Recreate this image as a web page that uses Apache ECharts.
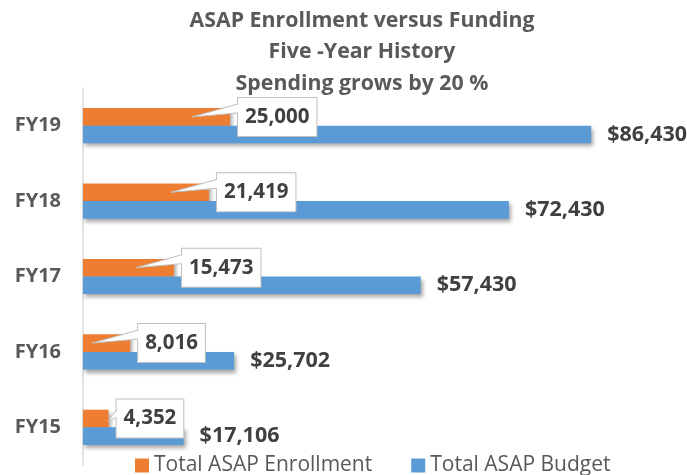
<!DOCTYPE html>
<html>
<head>
<meta charset="utf-8">
<script src="https://cdn.jsdelivr.net/npm/echarts@6/dist/echarts.min.js"></script>
<style>
  html, body { margin: 0; padding: 0; background: #fff; }
  #asap_chart { width: 687px; height: 475px; }
</style>
</head>
<body>
<div id="asap_chart"></div>
<script>
// Chart data
// ------------------------------

var categories = ["FY15", "FY16", "FY17", "FY18", "FY19"];
var enrollment = [4352, 8016, 15473, 21419, 25000];
var budget = [17106, 25702, 57430, 72430, 86430];

var BAR_W = 17.6;
var GRID_LEFT = 83;
var FONT = "'Open Sans', sans-serif";

var fmtNum = function (v) {
  return v.toLocaleString("en-US");
};

// Callout box with a thin tail, placed at the end of each enrollment bar
var renderCallout = function (params, api) {
  var val = api.value(0);
  var end = api.coord([val, api.value(1)]);
  var ex = end[0];
  var cy = end[1] - BAR_W / 2;
  var x0 = ex + 8;
  // short bars: tail just touches the bar end
  var longTail = ex - 38 > GRID_LEFT + 5;
  var tip = longTail ? [ex - 38, cy] : [ex, cy + 2];
  var a1 = longTail ? cy - 13 : cy - 9;
  var a2 = longTail ? cy - 4 : cy - 1;

  return {
    type: "group",
    children: [
      {
        type: "text",
        style: {
          text: fmtNum(val),
          x: x0,
          y: cy,
          align: "left",
          verticalAlign: "middle",
          font: "bold 20.5px " + FONT,
          fill: "#404040",
          backgroundColor: "#fff",
          borderColor: "#bfbfbf",
          borderWidth: 1,
          padding: [7, 7],
          lineHeight: 24,
        },
      },
      {
        type: "polygon",
        shape: { points: [[x0 + 1.5, a1], tip, [x0 + 1.5, a2]] },
        style: { fill: "#fff", stroke: null },
      },
      {
        type: "polyline",
        shape: { points: [[x0, a1], tip, [x0, a2]] },
        style: { stroke: "#bfbfbf", lineWidth: 1, fill: null },
      },
    ],
  };
};

var chartEl = document.getElementById("asap_chart");
var chart = echarts.init(chartEl);

chart.setOption({
  animation: false,
  color: ["#ED7D31", "#5B9BD5"],
  textStyle: { fontFamily: FONT },

  title: {
    text: "ASAP Enrollment versus Funding\nFive -Year History\nSpending grows by 20 %",
    left: 362,
    top: 5,
    padding: 0,
    textAlign: "center",
    textStyle: {
      fontSize: 21.3,
      fontWeight: "bold",
      color: "#595959",
      lineHeight: 31.5,
      fontFamily: FONT,
    },
  },

  legend: {
    data: ["Total ASAP Enrollment", "Total ASAP Budget"],
    left: 135,
    top: 455,
    padding: 0,
    icon: "rect",
    itemWidth: 14,
    itemHeight: 14,
    itemGap: 39,
    textStyle: { fontSize: 21, color: "#595959", fontFamily: FONT },
  },

  grid: {
    left: GRID_LEFT,
    right: 16,
    top: 88,
    bottom: 10,
    containLabel: false,
  },

  xAxis: {
    type: "value",
    min: 0,
    max: 100000,
    show: false,
  },

  yAxis: {
    type: "category",
    data: categories,
    axisTick: { show: false },
    axisLine: { lineStyle: { color: "#d9d9d9", width: 1.5 } },
    axisLabel: {
      fontSize: 20,
      fontWeight: "bold",
      color: "#595959",
      margin: 22,
      fontFamily: FONT,
    },
  },

  series: [
    {
      name: "Total ASAP Enrollment",
      type: "bar",
      data: enrollment,
      barWidth: BAR_W,
      barGap: "0%",
      itemStyle: {
        shadowBlur: 4,
        shadowOffsetX: 2,
        shadowOffsetY: 3,
        shadowColor: "rgba(0,0,0,0.35)",
      },
    },
    {
      name: "Total ASAP Budget",
      type: "bar",
      data: budget,
      barWidth: BAR_W,
      barGap: "0%",
      itemStyle: {
        shadowBlur: 4,
        shadowOffsetX: 2,
        shadowOffsetY: 3,
        shadowColor: "rgba(0,0,0,0.35)",
      },
      label: {
        show: true,
        position: "right",
        distance: 16,
        fontSize: 21.5,
        fontWeight: "bold",
        color: "#404040",
        fontFamily: FONT,
        formatter: function (p) {
          return "$" + fmtNum(p.value);
        },
      },
    },
    {
      name: "callouts",
      type: "custom",
      z: 5,
      silent: true,
      renderItem: renderCallout,
      data: enrollment.map(function (v, i) {
        return [v, i];
      }),
    },
  ],
});
</script>
</body>
</html>
